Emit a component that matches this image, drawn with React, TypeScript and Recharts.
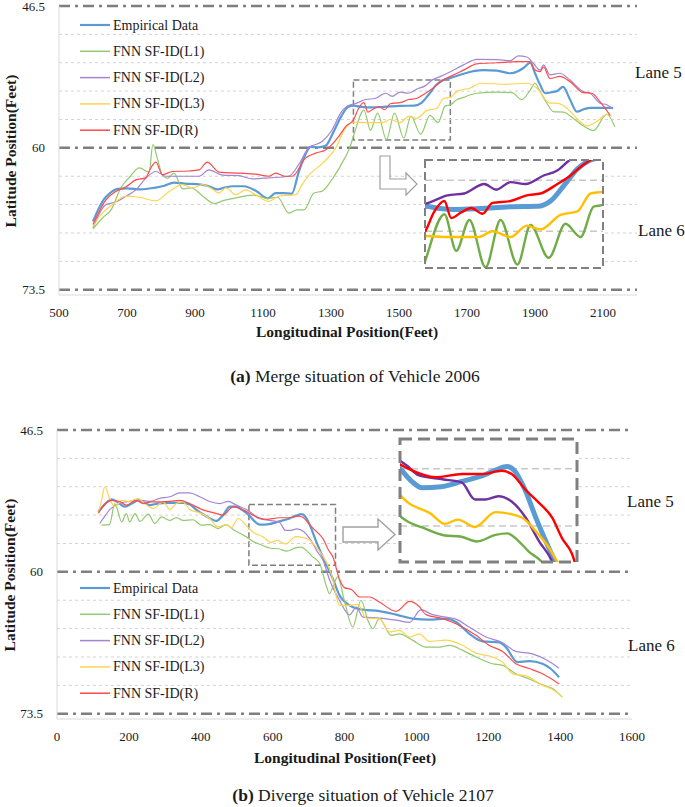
import { Line, LineChart, ReferenceArea, ReferenceLine, XAxis, YAxis } from "recharts";

type Pt = [number, number];

// (a) merge, vehicle 2006 — [longitudinal ft, latitude ft]
const mergeEmpirical: Pt[] = [
  [600, 67.0], [615, 65.9], [632, 64.9], [650, 64.3], [673, 63.9], [700, 63.85], [741, 63.95],
  [780, 63.8], [810, 63.6], [838, 63.3], [870, 63.4], [917, 63.5], [945, 63.7], [966, 63.95],
  [990, 63.75], [1014, 63.65], [1043, 63.65], [1080, 64.1], [1114, 64.8], [1137, 64.3], [1160, 64.3],
  [1185, 64.35], [1205, 62.3], [1225, 60.6], [1240, 59.9], [1262, 59.95], [1284, 59.8], [1307, 58.5],
  [1330, 57.0], [1350, 56.1], [1366, 55.98], [1390, 56.1], [1413, 56.15], [1455, 56.1], [1503, 56.0],
  [1546, 55.98], [1567, 55.7], [1588, 54.9], [1610, 54.0], [1630, 53.55], [1651, 53.35], [1685, 53.0],
  [1719, 52.7], [1750, 52.6], [1788, 52.65], [1827, 52.9], [1850, 52.7], [1866, 52.4], [1886, 51.9],
  [1900, 52.9], [1915, 54.0], [1930, 54.8], [1950, 54.7], [1964, 54.6], [1983, 54.2], [2003, 55.4],
  [2023, 56.55], [2045, 56.3], [2062, 56.2], [2130, 56.2],
];
const mergeL1: Pt[] = [
  [600, 67.7], [630, 66.6], [653, 65.9], [682, 63.8], [710, 62.7], [736, 61.9], [765, 62.3], [776, 59.7],
  [790, 61.1], [804, 62.6], [820, 62.9], [838, 62.4], [864, 63.9], [888, 63.8], [927, 64.7], [956, 65.3],
  [985, 65.0], [1014, 64.8], [1073, 64.5], [1113, 64.8], [1143, 64.7], [1176, 66.2], [1200, 65.9],
  [1220, 65.9], [1250, 64.3], [1275, 64.1], [1307, 62.8], [1340, 61.0], [1355, 60.0], [1366, 58.9],
  [1397, 56.4], [1416, 58.33], [1437, 56.7], [1463, 59.2], [1487, 56.7], [1514, 59.06], [1535, 56.97],
  [1564, 58.7], [1591, 56.9], [1615, 57.6], [1636, 56.0], [1651, 55.9], [1671, 55.4], [1690, 55.2],
  [1710, 54.95], [1729, 54.8], [1788, 54.7], [1832, 54.75], [1861, 55.4], [1886, 54.5], [1900, 53.85],
  [1915, 54.65], [1935, 55.75], [1954, 56.55], [1983, 56.6], [2013, 57.2], [2042, 57.9], [2072, 58.35],
  [2111, 56.8], [2135, 58.0],
];
const mergeL2: Pt[] = [
  [600, 67.6], [638, 65.4], [667, 65.15], [697, 64.6], [726, 64.0], [755, 62.9], [785, 62.25], [814, 62.7],
  [863, 62.7], [912, 62.7], [941, 62.1], [981, 62.6], [1029, 62.65], [1069, 62.95], [1117, 62.85],
  [1176, 62.7], [1205, 61.6], [1235, 59.97], [1274, 59.4], [1303, 58.3], [1330, 56.6], [1357, 55.9],
  [1366, 55.85], [1402, 55.4], [1429, 55.3], [1461, 54.8], [1480, 55.1], [1503, 54.7], [1527, 54.8],
  [1556, 54.35], [1577, 54.1], [1598, 53.53], [1622, 53.2], [1651, 52.75], [1690, 52.1], [1729, 51.57],
  [1788, 51.6], [1827, 51.7], [1851, 51.25], [1876, 51.35], [1895, 51.95], [1915, 52.6], [1925, 52.1],
  [1944, 53.05], [1973, 52.9], [2003, 53.55], [2042, 54.65], [2062, 54.8], [2091, 55.75], [2111, 55.9],
  [2129, 56.3],
];
const mergeL3: Pt[] = [
  [600, 67.5], [620, 66.5], [657, 65.4], [697, 64.6], [736, 64.7], [785, 65.05], [824, 64.15], [863, 63.5],
  [893, 63.8], [922, 63.5], [950, 63.9], [971, 64.3], [991, 63.8], [1020, 64.45], [1049, 64.0],
  [1078, 64.45], [1117, 65.1], [1146, 64.6], [1196, 64.45], [1215, 63.5], [1235, 62.6], [1274, 61.5],
  [1313, 60.05], [1343, 58.1], [1366, 57.55], [1400, 57.6], [1430, 57.6], [1452, 57.6], [1474, 57.3],
  [1503, 57.6], [1529, 57.0], [1551, 57.2], [1583, 56.43], [1610, 56.25], [1631, 55.3], [1651, 55.2],
  [1672, 54.6], [1710, 54.3], [1739, 53.85], [1817, 53.95], [1876, 53.85], [1905, 54.3], [1944, 55.75],
  [1964, 55.75], [1993, 56.2], [2023, 57.2], [2052, 57.9], [2082, 57.5], [2111, 56.8], [2126, 57.0],
];
const mergeR: Pt[] = [
  [600, 67.3], [638, 64.95], [667, 64.15], [697, 63.7], [726, 63.05], [755, 62.85], [770, 61.9], [785, 61.35],
  [804, 62.55], [833, 62.25], [883, 62.2], [912, 62.1], [936, 61.35], [971, 62.3], [1029, 62.4],
  [1078, 62.5], [1117, 62.7], [1137, 62.4], [1166, 62.7], [1186, 62.7], [1225, 60.98], [1255, 60.5],
  [1284, 60.2], [1323, 58.9], [1343, 57.97], [1366, 57.33], [1381, 56.25], [1397, 55.7], [1408, 56.6],
  [1424, 56.3], [1440, 56.07], [1458, 56.37], [1474, 55.8], [1503, 55.7], [1529, 55.4], [1551, 55.3],
  [1578, 54.8], [1599, 54.35], [1615, 53.9], [1631, 53.53], [1651, 53.2], [1690, 52.6], [1729, 52.0],
  [1788, 51.9], [1846, 51.8], [1885, 51.8], [1900, 52.6], [1915, 52.75], [1925, 52.3], [1944, 53.4],
  [1973, 53.2], [2003, 53.7], [2042, 54.75], [2067, 54.8], [2091, 55.6], [2121, 56.9],
];

// (b) diverge, vehicle 2107
const divergeEmpirical: Pt[] = [
  [115, 54.3], [135, 53.5], [152, 53.1], [170, 53.4], [189, 53.8], [208, 53.5], [226, 53.2], [245, 53.45],
  [258, 53.65], [280, 53.5], [305, 53.43], [351, 53.43], [370, 53.6], [388, 54.1], [415, 54.7],
  [444, 55.15], [462, 54.6], [481, 53.8], [499, 53.8], [515, 54.1], [534, 54.6], [550, 55.2], [564, 55.5],
  [590, 55.45], [618, 55.2], [647, 54.92], [665, 54.65], [680, 54.5], [690, 54.7], [703, 55.5], [720, 57.0],
  [740, 58.6], [768, 60.7], [786, 62.23], [814, 63.18], [851, 63.6], [897, 63.73], [944, 64.07],
  [990, 64.45], [1036, 64.55], [1082, 64.45], [1110, 64.77], [1147, 65.88], [1184, 66.61], [1231, 66.7],
  [1249, 67.16], [1281, 68.59], [1314, 68.5], [1351, 68.74], [1374, 69.22], [1397, 70.02],
];
const divergeL1: Pt[] = [
  [124, 55.56], [146, 55.5], [161, 53.5], [180, 55.24], [193, 54.45], [202, 55.24], [217, 54.45],
  [231, 55.2], [254, 54.5], [272, 55.4], [291, 54.77], [314, 55.1], [332, 54.83], [351, 55.1], [379, 55.04],
  [402, 55.56], [425, 55.5], [448, 55.88], [471, 55.5], [490, 55.97], [527, 56.67], [545, 57.1],
  [564, 57.37], [595, 57.75], [616, 57.8], [639, 58.03], [664, 57.72], [680, 57.65], [695, 58.0],
  [709, 58.5], [731, 59.2], [750, 61.4], [758, 62.07], [770, 61.2], [781, 60.48], [800, 62.8], [823, 65.24],
  [846, 62.7], [865, 64.6], [879, 65.4], [897, 64.45], [930, 66.04], [953, 65.9], [990, 66.52],
  [1027, 67.16], [1064, 67.16], [1092, 67.0], [1129, 67.47], [1166, 68.1], [1212, 68.74], [1240, 68.9],
  [1277, 69.7], [1314, 70.2], [1351, 70.75], [1379, 71.1], [1406, 71.92],
];
const divergeL2: Pt[] = [
  [119, 55.4], [135, 54.6], [146, 54.1], [174, 53.5], [202, 53.3], [235, 53.2], [258, 53.3], [286, 53.0],
  [314, 52.85], [342, 52.48], [369, 52.48], [397, 52.85], [425, 53.3], [453, 53.5], [476, 53.3],
  [499, 53.65], [527, 54.07], [545, 54.5], [559, 54.9], [592, 55.1], [618, 55.25], [636, 56.05],
  [650, 56.05], [668, 55.9], [686, 56.15], [705, 56.9], [723, 58.0], [740, 58.9], [760, 60.9], [786, 62.7],
  [814, 64.1], [833, 63.35], [851, 64.3], [897, 64.4], [944, 64.6], [981, 64.8], [1013, 63.6],
  [1045, 64.07], [1082, 64.3], [1110, 64.5], [1147, 65.25], [1194, 66.2], [1240, 66.74], [1277, 67.57],
  [1323, 67.8], [1360, 68.34], [1397, 69.16],
];
const divergeL3: Pt[] = [
  [115, 54.45], [125, 53.0], [133, 51.9], [146, 53.0], [161, 53.8], [180, 53.2], [202, 53.3], [226, 53.0],
  [244, 53.5], [268, 53.97], [295, 53.33], [314, 54.07], [332, 53.5], [351, 53.33], [369, 54.07],
  [397, 54.38], [425, 54.92], [448, 55.72], [471, 55.5], [485, 55.78], [504, 54.92], [527, 55.6],
  [545, 56.2], [575, 56.7], [595, 57.2], [613, 57.0], [636, 57.35], [664, 56.65], [686, 56.75],
  [704, 57.0], [720, 57.6], [740, 58.5], [768, 60.8], [777, 62.3], [786, 63.18], [814, 63.18], [837, 63.1],
  [860, 64.39], [897, 64.45], [925, 65.72], [953, 65.56], [981, 66.2], [1008, 65.9], [1036, 66.61],
  [1082, 66.5], [1129, 67.0], [1166, 67.73], [1212, 68.1], [1240, 68.59], [1268, 69.7], [1305, 69.9],
  [1351, 70.8], [1379, 71.2], [1406, 71.9],
];
const divergeR: Pt[] = [
  [115, 54.4], [135, 53.5], [152, 53.2], [174, 53.3], [193, 53.65], [221, 53.2], [240, 53.5], [263, 53.33],
  [291, 53.33], [314, 53.3], [342, 53.2], [369, 53.5], [406, 54.1], [444, 54.45], [462, 54.6], [490, 53.8],
  [518, 54.1], [545, 54.6], [582, 55.0], [619, 54.85], [647, 54.85], [672, 54.7], [686, 54.85],
  [705, 55.6], [723, 56.2], [741, 56.9], [755, 57.9], [768, 58.6], [785, 60.6], [800, 61.5], [820, 61.7],
  [842, 62.39], [870, 62.39], [897, 62.87], [944, 63.75], [981, 62.8], [1008, 63.3], [1027, 64.07],
  [1073, 64.45], [1110, 64.93], [1166, 66.04], [1203, 67.0], [1240, 67.57], [1277, 68.74], [1314, 69.2],
  [1351, 69.7], [1397, 70.66],
];

const seriesNames = ["Empirical Data", "FNN SF-ID(L1)", "FNN SF-ID(L2)", "FNN SF-ID(L3)", "FNN SF-ID(R)"];
const mainColors = ["#5B9BD5", "#93C96F", "#A385D3", "#FFD34F", "#FF4A4A"];
const insetColors = ["#5B9BD5", "#70AD47", "#7030A0", "#FFC000", "#FF0000"];

const laneLines = [46.5, 60, 73.5];
const gridValues = [49.2, 51.9, 54.6, 57.3, 62.7, 65.4, 68.1, 70.8];
const mergeXTicks = [500, 700, 900, 1100, 1300, 1500, 1700, 1900, 2100];
const divergeXTicks = [0, 200, 400, 600, 800, 1000, 1200, 1400, 1600];

const serif = "'Liberation Serif', 'Times New Roman', serif";
const ink = "#1a1a1a";

const rows = (pts: Pt[]) => pts.map(([x, y]) => ({ x, y }));

type Zoom = { x: [number, number]; y: [number, number] };

function MainChart({
  top, plotLeft, plotRight, xDomain, xTicks, series, box,
}: {
  top: number; plotLeft: number; plotRight: number; xDomain: [number, number];
  xTicks: number[]; series: Pt[][]; box: Zoom;
}) {
  return (
    <div style={{ position: "absolute", left: 0, top, width: 685, height: 345 }}>
      <LineChart width={685} height={345} margin={{ top: 6, right: 685 - plotRight, bottom: 20, left: 0 }}>
        <XAxis
          type="number" dataKey="x" domain={xDomain} ticks={xTicks} interval={0} allowDataOverflow
          height={30} tickLine={false} tickSize={0} tickMargin={13}
          axisLine={{ stroke: "#D9D9D9" }}
          tick={{ fontSize: 13, fill: ink, fontFamily: serif }}
        />
        <YAxis
          type="number" domain={[46.5, 74]} ticks={laneLines} interval={0} reversed allowDataOverflow
          width={plotLeft} tickLine={false} tickSize={0} tickMargin={14}
          axisLine={{ stroke: "#D9D9D9" }}
          tick={{ fontSize: 13, fill: ink, fontFamily: serif }}
        />
        {gridValues.map((v) => (
          <ReferenceLine key={v} y={v} stroke="#D4D4D4" strokeDasharray="3 3" />
        ))}
        {laneLines.map((v) => (
          <ReferenceLine key={v} y={v} stroke="#7F7F7F" strokeWidth={2.5} strokeDasharray="11 5 3 5" />
        ))}
        <ReferenceArea
          x1={box.x[0]} x2={box.x[1]} y1={box.y[0]} y2={box.y[1]}
          fill="none" fillOpacity={0} stroke="#7F7F7F" strokeWidth={1.5} strokeDasharray="6 3"
        />
        {series.map((pts, i) => (
          <Line
            key={seriesNames[i]} data={rows(pts)} dataKey="y" name={seriesNames[i]} type="monotone"
            stroke={mainColors[i]} strokeWidth={i === 0 ? 2.2 : 1.2} dot={false} activeDot={false}
            isAnimationActive={false}
          />
        ))}
      </LineChart>
    </div>
  );
}

function InsetChart({
  left, top, width, height, series, zoom,
}: {
  left: number; top: number; width: number; height: number; series: Pt[][]; zoom: Zoom;
}) {
  return (
    <div style={{ position: "absolute", left, top, width, height, background: "#fff" }}>
      <LineChart width={width} height={height} margin={{ top: 0, right: 0, bottom: 0, left: 0 }}>
        <XAxis type="number" dataKey="x" domain={zoom.x} allowDataOverflow hide />
        <YAxis type="number" domain={zoom.y} allowDataOverflow reversed hide />
        {gridValues
          .filter((v) => v > zoom.y[0] && v < zoom.y[1])
          .map((v) => (
            <ReferenceLine key={v} y={v} stroke="#C8C8C8" strokeWidth={1.5} strokeDasharray="7 4" />
          ))}
        {series.map((pts, i) => (
          <Line
            key={seriesNames[i]} data={rows(pts)} dataKey="y" type="monotone"
            stroke={insetColors[i]} strokeWidth={i === 0 ? 5 : 2.4} dot={false} activeDot={false}
            isAnimationActive={false}
          />
        ))}
      </LineChart>
    </div>
  );
}

function LegendBlock({ top }: { top: number }) {
  return (
    <g>
      {seriesNames.map((name, i) => {
        const y = top + i * 26.3;
        return (
          <g key={name}>
            <line x1={80} x2={110} y1={y} y2={y} stroke={mainColors[i]} strokeWidth={i === 0 ? 2.2 : 1.5} />
            <text x={113} y={y} dominantBaseline="central" fontSize={14} fill={ink} fontFamily={serif}>
              {name}
            </text>
          </g>
        );
      })}
    </g>
  );
}

const mergeSeries = [mergeEmpirical, mergeL1, mergeL2, mergeL3, mergeR];
const divergeSeries = [divergeEmpirical, divergeL1, divergeL2, divergeL3, divergeR];

export default function App() {
  const title = { fontFamily: serif, fontWeight: 700, fontSize: 15.5, fill: ink } as const;
  const lane = { fontFamily: serif, fontSize: 17, fill: ink } as const;
  const caption = { fontFamily: serif, fontSize: 17.5, fill: ink } as const;
  return (
    <div style={{ position: "absolute", left: 0, top: 0, width: 685, height: 807, background: "#fff" }}>
      <MainChart
        top={0} plotLeft={59} plotRight={637} xDomain={[500, 2200]} xTicks={mergeXTicks}
        series={mergeSeries} box={{ x: [1366, 1651], y: [53.53, 59.24] }}
      />
      <MainChart
        top={424} plotLeft={57} plotRight={632} xDomain={[0, 1600]} xTicks={divergeXTicks}
        series={divergeSeries} box={{ x: [534, 775], y: [53.58, 59.37] }}
      />
      <InsetChart
        left={425} top={160} width={178} height={108} series={mergeSeries}
        zoom={{ x: [1366, 1651], y: [53.53, 59.24] }}
      />
      <InsetChart
        left={400} top={439} width={177} height={123} series={divergeSeries}
        zoom={{ x: [534, 775], y: [53.2, 59.0] }}
      />
      <svg
        width={685} height={807}
        style={{ position: "absolute", left: 0, top: 0, pointerEvents: "none", zIndex: 5 }}
      >
        <rect x={425} y={160} width={178} height={108} fill="none" stroke="#808080" strokeWidth={2} strokeDasharray="8 4" />
        <rect x={400} y={439} width={177} height={123} fill="none" stroke="#808080" strokeWidth={3} strokeDasharray="12 6" />
        <path
          d="M380,156 L390,156 L390,179 L406,179 L406,173 L417,184 L406,195 L406,189 L380,189 Z"
          fill="#fff" stroke="#A0A0A0" strokeWidth={1.2}
        />
        <path
          d="M343,527 L378,527 L378,519 L395,534.5 L378,550 L378,542 L343,542 Z"
          fill="#fff" stroke="#A0A0A0" strokeWidth={1.4}
        />

        <LegendBlock top={25} />
        <LegendBlock top={588} />

        <text transform="translate(10,151) rotate(-90)" textAnchor="middle" dominantBaseline="central" {...title}>
          Latitude Position(Feet)
        </text>
        <text transform="translate(9,575) rotate(-90)" textAnchor="middle" dominantBaseline="central" {...title}>
          Latitude Position(Feet)
        </text>
        <text x={347} y={331} textAnchor="middle" dominantBaseline="central" {...title}>
          Longitudinal Position(Feet)
        </text>
        <text x={345} y={757} textAnchor="middle" dominantBaseline="central" {...title}>
          Longitudinal Position(Feet)
        </text>

        <text x={635} y={78} {...lane}>Lane 5</text>
        <text x={638} y={236} {...lane}>Lane 6</text>
        <text x={627} y={507} {...lane}>Lane 5</text>
        <text x={628} y={651} {...lane}>Lane 6</text>

        <text x={355} y={382} textAnchor="middle" {...caption}>
          <tspan fontWeight={700}>(a)</tspan> Merge situation of Vehicle 2006
        </text>
        <text x={363} y={801} textAnchor="middle" {...caption}>
          <tspan fontWeight={700}>(b)</tspan> Diverge situation of Vehicle 2107
        </text>
      </svg>
    </div>
  );
}
